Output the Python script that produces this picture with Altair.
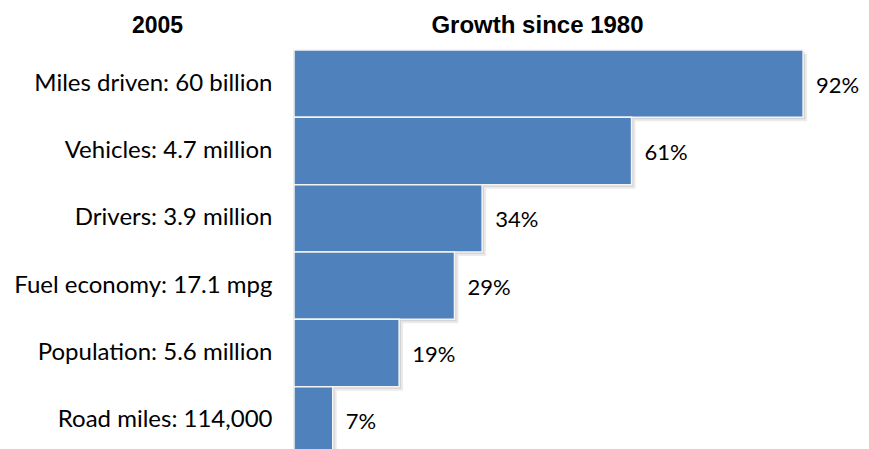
import altair as alt
import pandas as pd

categories = ["Miles driven: 60 billion", "Vehicles: 4.7 million", "Drivers: 3.9 million",
              "Fuel economy: 17.1 mpg", "Population: 5.6 million", "Road miles: 114,000"]
growth = [92, 61, 34, 29, 19, 7]
labels = ["92%", "61%", "34%", "29%", "19%", "7%"]

df = pd.DataFrame({"cat": categories, "growth": growth, "label": labels})

FONT = "Lato"
TFONT = "Liberation Sans"
y_enc = alt.Y("cat:N", sort=categories,
              scale=alt.Scale(paddingInner=0, paddingOuter=0),
              axis=alt.Axis(title="2005", titleAngle=0, titleX=-137, titleY=-25,
                            titleAlign="center", titleBaseline="middle",
                            titleFont=TFONT, titleFontSize=23, titleFontWeight="bold",
                            titleColor="#000",
                            labelFont=FONT, labelFontSize=24, labelColor="#000",
                            labelPadding=22, ticks=False, domainColor="#a0a0a0", domainWidth=2,
                            labelLimit=400))
x_enc = alt.X("growth:Q", scale=alt.Scale(domain=[0, 96.5], nice=False),
              axis=alt.Axis(orient="top", title="Growth since 1980", labels=False, ticks=False,
                            domain=False, grid=False, titleX=243, titleY=-25,
                            titleAlign="center", titleBaseline="middle",
                            titleFont=TFONT, titleFontSize=24, titleFontWeight="bold",
                            titleColor="#000"))

base = alt.Chart(df)
shadow2 = base.mark_bar(color="#000", opacity=0.08, xOffset=4, yOffset=4).encode(y=y_enc, x=x_enc)
shadow1 = base.mark_bar(color="#000", opacity=0.10, xOffset=2, yOffset=2).encode(y=y_enc, x=x_enc)
bars = base.mark_bar(color="#4F81BD", stroke="#f4f4f4", strokeWidth=1.5).encode(y=y_enc, x=x_enc)
text = base.mark_text(align="left", baseline="middle", dx=13, dy=2, font=FONT, fontSize=22,
                      color="#000").encode(y=y_enc, x=x_enc, text="label:N")

chart = alt.layer(shadow2, shadow1, bars, text).properties(
    width=534, height=404,
    autosize=alt.AutoSizeParams(type="none"),
    padding={"left": 286, "top": 42, "right": 33, "bottom": 0},
).configure_view(stroke=None)

chart.save("out.html", embed_options={"renderer": "svg", "actions": False})
